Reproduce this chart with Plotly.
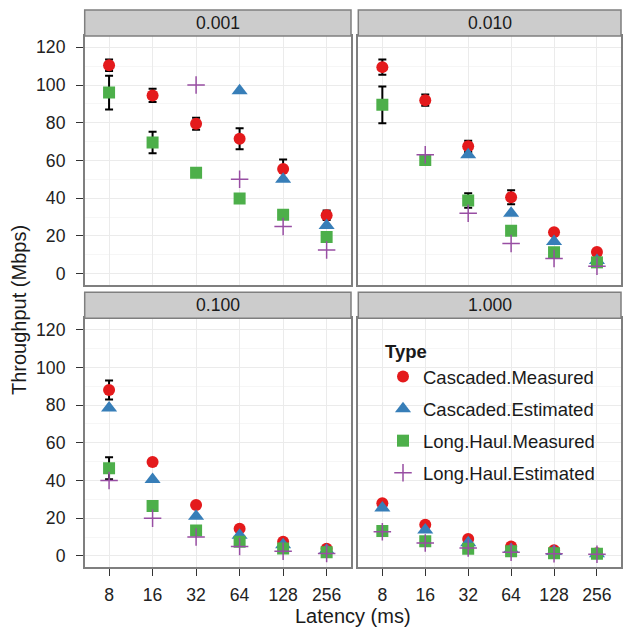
import plotly.graph_objects as go

latency = ["8", "16", "32", "64", "128", "256"]
panels = ["0.001", "0.010", "0.100", "1.000"]
types = ["Cascaded.Measured", "Cascaded.Estimated", "Long.Haul.Measured", "Long.Haul.Estimated"]

# values per panel (None = not shown)
cascaded_measured = {
    "0.001": [110.5, 94.5, 79.5, 71.5, 55.5, 31.0],
    "0.010": [109.5, 92.0, 67.5, 40.5, 22.0, 11.5],
    "0.100": [88.0, 49.8, 27.0, 14.5, 7.5, 3.8],
    "1.000": [28.0, 16.5, 9.0, 5.0, 3.0, 1.5],
}
cascaded_measured_err = {
    "0.001": [3.0, 3.5, 3.2, 5.6, 5.0, 2.5],
    "0.010": [4.0, 3.0, 3.0, 3.7, 1.5, 1.0],
    "0.100": [5.0, 1.2, 1.0, 1.0, 0.5, 0.5],
    "1.000": [1.0, 1.0, 0.5, 0.5, 0.3, 0.3],
}
cascaded_estimated = {
    "0.001": [None, None, None, 97.0, 50.0, 25.5],
    "0.010": [None, None, 63.0, 32.0, 17.0, 7.0],
    "0.100": [78.5, 40.5, 21.0, 11.0, 6.0, 3.0],
    "1.000": [25.5, 13.8, 7.0, 3.5, 2.4, 1.2],
}
longhaul_measured = {
    "0.001": [96.0, 69.5, 53.5, 39.8, 31.3, 19.5],
    "0.010": [89.5, 60.3, 38.8, 22.8, 11.3, 6.0],
    "0.100": [46.5, 26.5, 13.5, 7.5, 4.0, 2.0],
    "1.000": [13.2, 7.8, 3.9, 2.5, 1.5, 1.2],
}
longhaul_measured_err = {
    "0.001": [8.9, 5.7, 1.0, 1.0, 1.0, 1.0],
    "0.010": [9.7, 1.0, 3.9, 1.0, 1.0, 0.5],
    "0.100": [5.8, 1.0, 0.5, 0.5, 0.3, 0.3],
    "1.000": [0.5, 0.5, 0.3, 0.3, 0.3, 0.3],
}
longhaul_estimated = {
    "0.001": [None, None, 100.0, 50.0, 25.0, 12.5],
    "0.010": [None, 63.0, 32.0, 16.0, 8.0, 4.0],
    "0.100": [40.0, 20.0, 10.0, 5.0, 2.5, 1.25],
    "1.000": [12.8, 6.9, 4.2, 2.0, 1.2, 0.9],
}

colors = {"Cascaded.Measured": "#E41A1C", "Cascaded.Estimated": "#377EB8",
          "Long.Haul.Measured": "#4DAF4A", "Long.Haul.Estimated": "#984EA3"}

W, H = 623, 627
FONT = "Liberation Sans, Arial, sans-serif"
TXT = "#1A1A1A"

# panel pixel boxes (left, right, top, bottom) for plot area
xs = [(84.7, 351.0), (358.3, 621.0)]
ys = [(36.0, 285.0), (318.3, 567.3)]
strip_h = 26.0

def px2x(p):
    return p / W

def px2y(p):
    return 1 - p / H

fig = go.Figure()
layout = dict(
    width=W, height=H,
    margin=dict(l=0, r=0, t=0, b=0),
    paper_bgcolor="white", plot_bgcolor="white",
    font=dict(family=FONT, size=17.6, color=TXT),
    showlegend=True,
)
shapes = []
annotations = []

for i, pn in enumerate(panels):
    r, c = divmod(i, 2)
    ax = "" if i == 0 else str(i + 1)
    xl, xr = xs[c]
    yt, yb = ys[r]
    xaxis = dict(
        domain=[px2x(xl), px2x(xr)],
        anchor="y" + ax,
        type="category",
        categoryorder="array", categoryarray=latency,
        range=[-0.56, 5.56],
        showgrid=True, gridcolor="#EBEBEB", gridwidth=1,
        showline=True, mirror=True, linecolor="#7F7F7F", linewidth=1.5,
        ticks="outside" if r == 1 else "", ticklen=7, tickcolor="#333333", tickwidth=1,
        showticklabels=(r == 1),
        ticklabelstandoff=4,
        tickfont=dict(size=17.6, color="#222222"),
        zeroline=False,
    )
    yaxis = dict(
        domain=[px2y(yb), px2y(yt)],
        anchor="x" + ax,
        range=[-6, 126],
        tickmode="array", tickvals=[0, 20, 40, 60, 80, 100, 120],
        showgrid=True, gridcolor="#EBEBEB", gridwidth=1,
        minor=dict(tickvals=[10, 30, 50, 70, 90, 110], showgrid=True, gridcolor="#F6F6F6", gridwidth=1),
        showline=True, mirror=True, linecolor="#7F7F7F", linewidth=1.5,
        ticks="outside" if c == 0 else "", ticklen=7, tickcolor="#333333", tickwidth=1,
        showticklabels=(c == 0),
        ticklabelstandoff=7,
        tickfont=dict(size=17.6, color="#222222"),
        zeroline=False,
    )
    layout["xaxis" + ax] = xaxis
    layout["yaxis" + ax] = yaxis

    # strip
    shapes.append(dict(type="rect", xref="paper", yref="paper",
                       x0=px2x(xl), x1=px2x(xr), y0=px2y(yt), y1=px2y(yt - strip_h),
                       fillcolor="#CCCCCC", line=dict(color="#7F7F7F", width=1.5), layer="above"))
    annotations.append(dict(text=pn, xref="paper", yref="paper",
                            x=px2x((xl + xr) / 2), y=px2y(yt - strip_h / 2),
                            showarrow=False, font=dict(size=17.6, color=TXT),
                            xanchor="center", yanchor="middle"))

    first = (i == 0)
    fig.add_trace(go.Scatter(
        x=latency, y=cascaded_measured[pn], mode="markers", name=types[0],
        legendgroup=types[0], showlegend=first, xaxis="x" + ax, yaxis="y" + ax,
        marker=dict(symbol="circle", size=12, color=colors[types[0]]),
        error_y=dict(type="data", array=cascaded_measured_err[pn], color="black", thickness=2, width=4),
    ))
    fig.add_trace(go.Scatter(
        x=latency, y=cascaded_estimated[pn], mode="markers", name=types[1],
        legendgroup=types[1], showlegend=first, xaxis="x" + ax, yaxis="y" + ax,
        marker=dict(symbol="triangle-up", size=14, color=colors[types[1]]),
    ))
    fig.add_trace(go.Scatter(
        x=latency, y=longhaul_measured[pn], mode="markers", name=types[2],
        legendgroup=types[2], showlegend=first, xaxis="x" + ax, yaxis="y" + ax,
        marker=dict(symbol="square", size=12, color=colors[types[2]]),
        error_y=dict(type="data", array=longhaul_measured_err[pn], color="black", thickness=2, width=4),
    ))
    fig.add_trace(go.Scatter(
        x=latency, y=longhaul_estimated[pn], mode="markers", name=types[3],
        legendgroup=types[3], showlegend=first, xaxis="x" + ax, yaxis="y" + ax,
        marker=dict(symbol="cross-thin", size=12.5, color=colors[types[3]],
                    line=dict(color=colors[types[3]], width=1.5)),
    ))

annotations.append(dict(text="Throughput (Mbps)", xref="paper", yref="paper",
                        x=px2x(19), y=px2y(310), textangle=-90, showarrow=False,
                        font=dict(size=20, color=TXT), xanchor="center", yanchor="middle"))
annotations.append(dict(text="Latency (ms)", xref="paper", yref="paper",
                        x=px2x(353), y=px2y(616), showarrow=False,
                        font=dict(size=20, color=TXT), xanchor="center", yanchor="middle"))

layout["shapes"] = shapes
layout["annotations"] = annotations
layout["legend"] = dict(
    x=px2x(383), y=px2y(334), xanchor="left", yanchor="top",
    bgcolor="rgba(0,0,0,0)",
    title=dict(text="<b>Type</b>", font=dict(size=18.5, color=TXT)),
    font=dict(size=18.5, color=TXT),
    tracegroupgap=5,
    itemsizing="trace",
)
fig.update_layout(**layout)
fig.write_html("out.html", config={"displayModeBar": False},
               post_script="document.body.style.margin='0px';document.body.style.overflow='hidden';")
